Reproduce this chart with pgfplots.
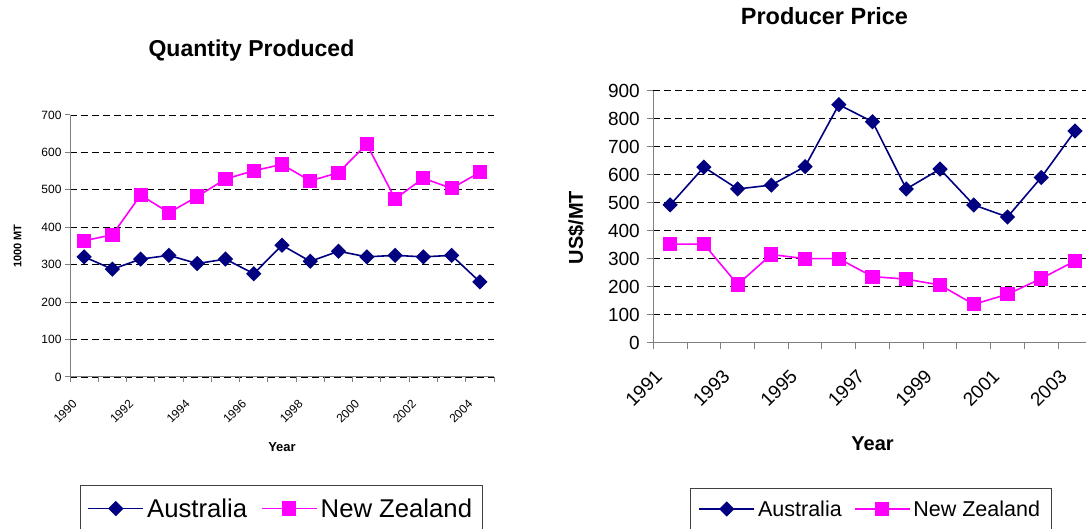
\documentclass[border=0pt]{standalone}
\usepackage{fontspec}
\setmainfont{Liberation Sans}
\usepackage{pgfplots}
\usepackage{pgfplotstable}
\pgfplotsset{compat=1.18}
\definecolor{aus}{HTML}{000080}
\definecolor{nz}{HTML}{FF00FF}
\definecolor{axgray}{HTML}{808080}

\pgfplotstableread{
idx year aus nz
0 1990 321 364
1 1991 288 380
2 1992 315 486
3 1993 325 439
4 1994 303 482
5 1995 315 529
6 1996 276 551
7 1997 352 568
8 1998 309 524
9 1999 336 546
10 2000 321 622
11 2001 325 476
12 2002 321 531
13 2003 325 504
14 2004 254 547
}\qtydata

\pgfplotstableread{
idx year aus nz
0 1991 492 352
1 1992 627 352
2 1993 549 208
3 1994 563 315
4 1995 629 300
5 1996 850 300
6 1997 789 236
7 1998 549 227
8 1999 620 206
9 2000 492 137
10 2001 449 173
11 2002 590 229
12 2003 756 292
}\pricedata

\pgfplotsset{
  excelstyle/.style={
    scale only axis,
    axis x line*=bottom, axis y line*=left,
    axis line style={axgray, line width=1pt},
    ymajorgrids,
    grid style={black, line width=0.8pt, dash pattern=on 7pt off 4pt},
    tick style={axgray, line width=1pt},
    xtick style={axgray, line width=1pt},
    tick align=outside,
    major tick length=5pt,
    /pgf/number format/assume math mode=true,
    /pgf/number format/1000 sep={},
    clip=false,
    legend columns=2,
    legend cell align=left,
    legend image code/.code={\draw[mark repeat=2,mark phase=2,##1] plot coordinates {(0pt,0pt)(27.5pt,0pt)(55pt,0pt)};},
  },
  ausstyle/.style={color=aus, line width=1.6pt, mark=square*, mark size=4.6pt, mark options={rotate=45, solid}},
  nzstyle/.style={color=nz, line width=1.6pt, mark=square*, mark size=6.3pt, mark options={solid}},
}

\begin{document}
\begin{tikzpicture}
\useasboundingbox (0pt,0pt) rectangle (1086pt,529pt);
\begin{pgfinterruptboundingbox}
% ---------------- Left: Quantity Produced ----------------
\begin{axis}[excelstyle,
  at={(70pt,152pt)}, anchor=south west,
  width=424pt, height=262pt,
  xmin=-0.5, xmax=14.5, ymin=0, ymax=700,
  xtick={-0.5,0.5,...,14.5},
  xticklabels={1990,,1992,,1994,,1996,,1998,,2000,,2002,,2004,},
  ytick={0,100,...,700},
  yticklabel style={font=\fontsize{12}{14}\selectfont},
  xticklabel style={font=\fontsize{12}{14}\selectfont, xshift=7.1pt, yshift=-17.5pt, rotate=45, anchor=east},
  xlabel={Year},
  xlabel style={font=\bfseries\fontsize{13}{15}\selectfont, at={([yshift=-70pt]rel axis cs:0.5,0)}, anchor=center},
  ylabel={1000 MT},
  ylabel style={font=\bfseries\fontsize{11}{13}\selectfont, at={([xshift=-52.5pt]rel axis cs:0,0.5)}, anchor=center},
  title={Quantity Produced},
  title style={font=\bfseries\fontsize{23}{27}\selectfont, at={(rel axis cs:0.428,1.1985)}, anchor=base},
  legend style={at={(0.0236,-0.4122)}, anchor=north west, draw=black!75, line width=1pt,
    font=\fontsize{25.7}{30}\selectfont, inner xsep=7pt, inner ysep=10pt,
    nodes={inner sep=3pt},
    /tikz/every even column/.append style={column sep=11pt}},
]
\addplot[ausstyle] table[x=idx,y=aus]{\qtydata};
\addlegendentry{Australia}
\addplot[nzstyle] table[x=idx,y=nz]{\qtydata};
\addlegendentry{New Zealand}
\end{axis}

% ---------------- Right: Producer Price ----------------
\begin{axis}[excelstyle,
  at={(653.3pt,186.3pt)}, anchor=south west,
  width=438.5pt, height=252pt,
  xmin=-0.5, xmax=12.5, ymin=0, ymax=900,
  major tick length=6pt,
  xtick={-0.5,0.5,...,12.5},
  xticklabels={1991,,1993,,1995,,1997,,1999,,2001,,2003,},
  ytick={0,100,...,900},
  yticklabel style={font=\fontsize{19}{22}\selectfont, xshift=-4pt},
  xticklabel style={font=\fontsize{19}{22}\selectfont, xshift=7.9pt, yshift=-22pt, rotate=45, anchor=east},
  xlabel={Year},
  xlabel style={font=\bfseries\fontsize{20}{24}\selectfont, at={([yshift=-101pt]rel axis cs:0.5,0)}, anchor=center},
  ylabel={US\$/MT},
  ylabel style={font=\bfseries\fontsize{20}{24}\selectfont, at={([xshift=-77pt,yshift=-11pt]rel axis cs:0,0.5)}, anchor=center},
  title={Producer Price},
  title style={font=\bfseries\fontsize{23.5}{28}\selectfont, at={(rel axis cs:0.3904,1.2369)}, anchor=base},
  legend style={at={(0.0837,-0.5766)}, anchor=north west, draw=black!75, line width=1pt,
    font=\fontsize{21.5}{26}\selectfont, inner xsep=8pt, inner ysep=9pt,
    nodes={inner sep=3pt},
    /tikz/every even column/.append style={column sep=9pt}},
]
\addplot[ausstyle] table[x=idx,y=aus]{\pricedata};
\addlegendentry{Australia}
\addplot[nzstyle] table[x=idx,y=nz]{\pricedata};
\addlegendentry{New Zealand}
\end{axis}
\end{pgfinterruptboundingbox}
\end{tikzpicture}
\end{document}
